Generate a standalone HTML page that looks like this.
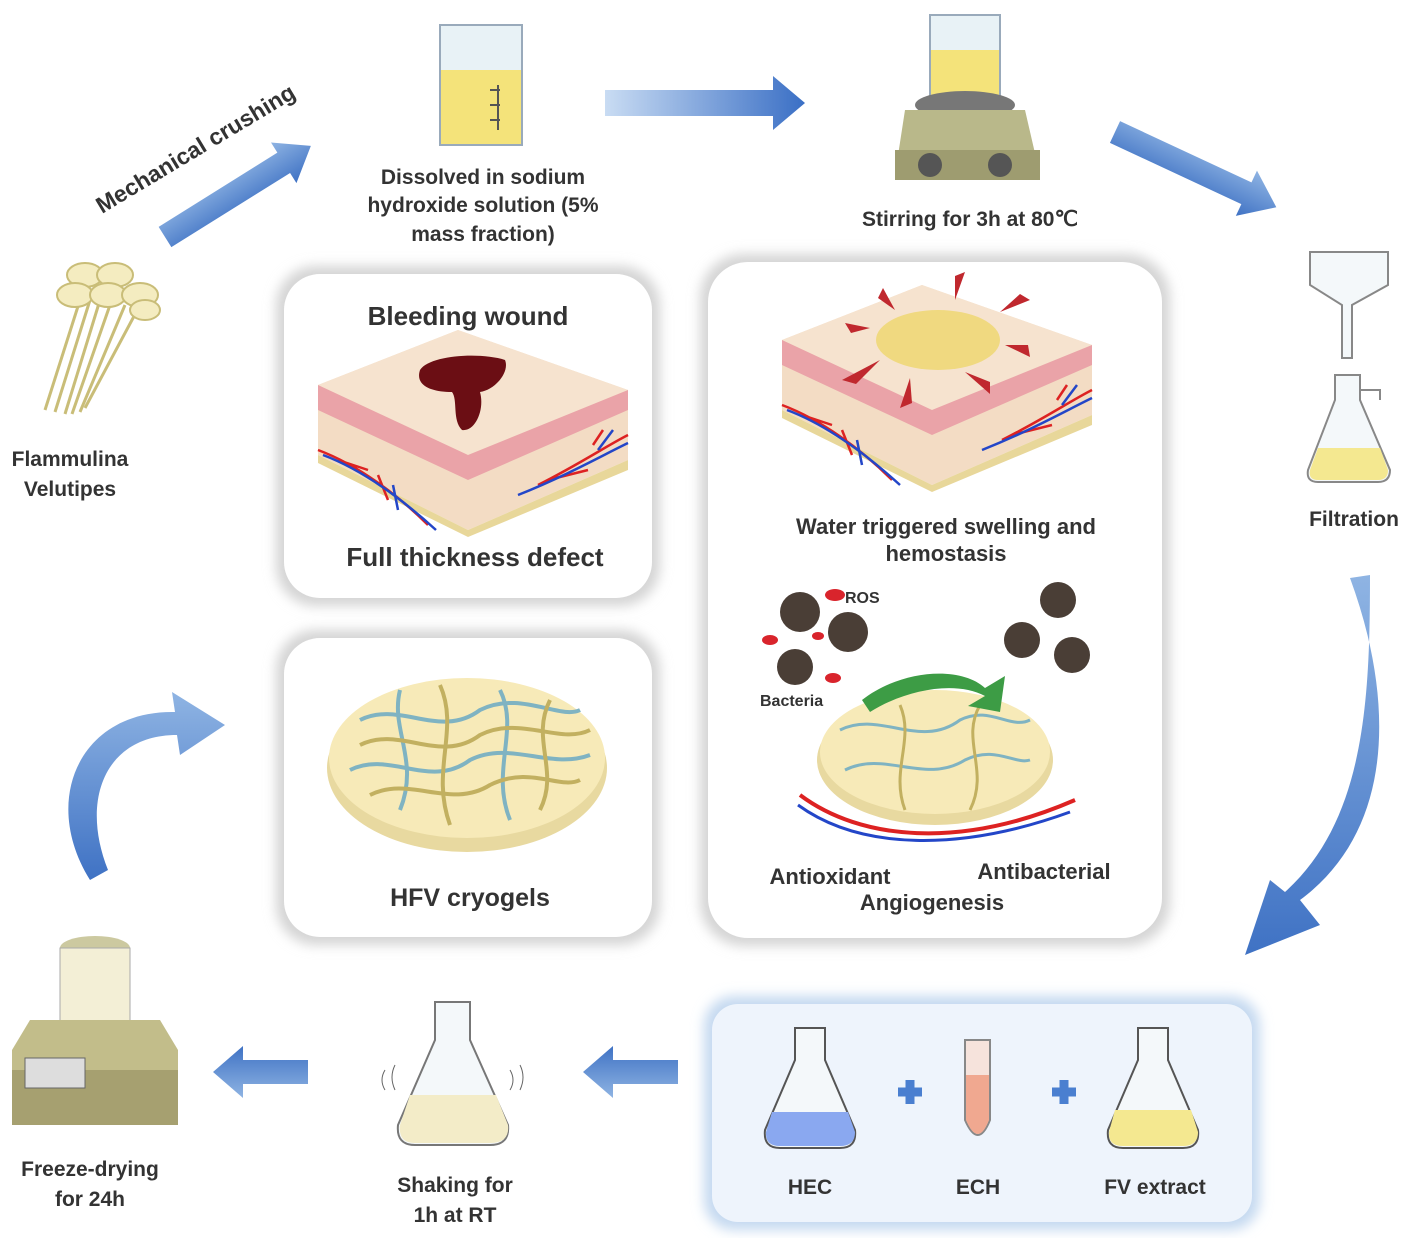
<!DOCTYPE html>
<html><head><meta charset="utf-8"><style>
html,body{margin:0;padding:0;background:#fff}
svg{display:block}
text{font-family:"Liberation Sans",Arial,sans-serif;font-weight:bold;fill:#333}
</style></head><body>
<svg width="1422" height="1238" viewBox="0 0 1422 1238" xmlns="http://www.w3.org/2000/svg">
<defs>
<linearGradient id="ab" x1="0" y1="0" x2="0" y2="1"><stop offset="0" stop-color="#8fb4e3"/><stop offset="1" stop-color="#3f72c4"/></linearGradient>
<linearGradient id="ab2" x1="0" y1="0" x2="1" y2="0"><stop offset="0" stop-color="#c9dcf3"/><stop offset="1" stop-color="#3a6fc5"/></linearGradient>
<filter id="sh" x="-10%" y="-10%" width="120%" height="120%"><feGaussianBlur stdDeviation="6"/></filter>
<g id="skin">
 <path d="M0,60 L140,5 L310,65 L310,135 L150,205 L0,130 Z" fill="#f3dcc4"/>
 <path d="M0,60 L140,5 L310,65 L150,130 Z" fill="#f6e3cf"/>
 <path d="M0,60 L150,130 L310,65 L310,85 L150,155 L0,85 Z" fill="#eaa3a8"/>
 <path d="M0,130 L150,205 L310,135 L310,145 L150,212 L0,138 Z" fill="#e8d79a"/>
 <path d="M0,125 C40,140 80,170 110,200 M20,135 L50,145 M60,150 L70,175 M220,160 C260,140 290,120 310,110 M230,155 L270,145 M275,120 L285,105" stroke="#d22" stroke-width="2.5" fill="none"/>
 <path d="M5,130 C45,145 85,175 118,205 M75,160 L80,185 M200,170 C250,150 285,130 310,118 M280,125 L295,105" stroke="#2346c8" stroke-width="2.5" fill="none"/>
</g>
</defs>

<!-- panels -->
<rect x="276" y="266" width="384" height="340" rx="40" fill="#d4d4d4" filter="url(#sh)"/>
<rect x="284" y="274" width="368" height="324" rx="36" fill="#fff"/>
<rect x="276" y="630" width="384" height="315" rx="40" fill="#d4d4d4" filter="url(#sh)"/>
<rect x="284" y="638" width="368" height="299" rx="36" fill="#fff"/>
<rect x="700" y="254" width="470" height="692" rx="44" fill="#d4d4d4" filter="url(#sh)"/>
<rect x="708" y="262" width="454" height="676" rx="40" fill="#fff"/>
<rect x="704" y="996" width="556" height="234" rx="30" fill="#c5d9f0" filter="url(#sh)"/>
<rect x="712" y="1004" width="540" height="218" rx="26" fill="#eef4fc"/>

<!-- panel 1 -->
<text x="468" y="325" font-size="26" text-anchor="middle">Bleeding wound</text>
<use href="#skin" transform="translate(318,325)"/>
<path d="M420,370 C430,355 480,352 505,360 C510,372 495,390 480,392 C485,410 475,432 462,430 C452,420 458,400 452,392 C430,392 415,385 420,370 Z" fill="#6b0e14"/>
<text x="475" y="566" font-size="26" text-anchor="middle">Full thickness defect</text>

<!-- panel 2 cryogel -->
<ellipse cx="467" cy="768" rx="140" ry="84" fill="#e8d9a0"/>
<ellipse cx="467" cy="758" rx="138" ry="80" fill="#f7eab8"/>
<g stroke="#7fb3c2" stroke-width="4" fill="none">
<path d="M360,720 C400,700 440,740 480,710 C520,690 560,720 580,710"/>
<path d="M350,770 C390,750 430,790 470,760 C510,740 550,770 590,755"/>
<path d="M400,690 C390,730 420,760 400,810"/>
<path d="M500,690 C520,730 490,770 510,820"/>
</g>
<g stroke="#c2b060" stroke-width="4" fill="none">
<path d="M360,745 C400,725 440,765 480,735 C520,715 560,745 590,730"/>
<path d="M370,795 C410,775 450,810 490,785 C530,765 560,790 580,780"/>
<path d="M440,685 C460,730 430,770 450,825"/>
<path d="M550,700 C530,740 560,770 540,810"/>
</g>
<text x="470" y="906" font-size="25" text-anchor="middle">HFV cryogels</text>

<!-- panel 3 -->
<use href="#skin" transform="translate(782,280)"/>
<ellipse cx="938" cy="340" rx="62" ry="30" fill="#f0d980"/>
<g fill="#c0282e">
<path d="M895,310 l-12,-22 l-5,10 z"/><path d="M955,300 l10,-28 l-10,4 z"/><path d="M1000,312 l30,-12 l-10,-6 z"/>
<path d="M1005,345 l25,12 l-2,-12 z"/><path d="M965,372 l25,22 l0,-12 z"/><path d="M910,378 l-10,30 l12,-5 z"/>
<path d="M880,360 l-38,20 l14,4 z"/><path d="M870,328 l-25,-5 l6,10 z"/>
</g>
<text x="946" y="534" font-size="22" text-anchor="middle">Water triggered swelling and</text>
<text x="946" y="561" font-size="22" text-anchor="middle">hemostasis</text>
<g fill="#4a3e36">
<circle cx="800" cy="612" r="20"/><circle cx="848" cy="632" r="20"/><circle cx="795" cy="667" r="18"/>
<circle cx="1058" cy="600" r="18"/><circle cx="1022" cy="640" r="18"/><circle cx="1072" cy="655" r="18"/>
</g>
<g fill="#d9242c"><ellipse cx="835" cy="595" rx="10" ry="6"/><ellipse cx="770" cy="640" rx="8" ry="5"/><ellipse cx="818" cy="636" rx="6" ry="4"/><ellipse cx="833" cy="678" rx="8" ry="5"/></g>
<text x="845" y="603" font-size="16" font-weight="normal">ROS</text>
<text x="760" y="706" font-size="16" font-weight="normal">Bacteria</text>
<ellipse cx="935" cy="760" rx="118" ry="65" fill="#e8d9a0"/>
<ellipse cx="935" cy="752" rx="115" ry="62" fill="#f7eab8"/>
<g stroke="#7fb3c2" stroke-width="3" fill="none"><path d="M840,730 C880,710 920,750 960,720 C990,705 1010,730 1030,720"/><path d="M845,770 C885,750 925,785 965,760 C995,745 1015,765 1030,760"/></g>
<g stroke="#c2b060" stroke-width="3" fill="none"><path d="M900,705 C915,740 890,770 905,810"/><path d="M980,705 C960,740 990,770 970,810"/></g>
<path d="M862,700 C900,670 960,665 985,688 L1005,676 L1000,712 L968,706 L985,696 C955,680 905,690 870,712 Z" fill="#3d9c45"/>
<path d="M800,795 C860,840 960,850 1075,800" stroke="#d22" stroke-width="4" fill="none"/>
<path d="M798,805 C860,850 960,852 1070,812" stroke="#2346c8" stroke-width="3" fill="none"/>
<text x="830" y="884" font-size="22" text-anchor="middle">Antioxidant</text>
<text x="1044" y="879" font-size="22" text-anchor="middle">Antibacterial</text>
<text x="932" y="910" font-size="22" text-anchor="middle">Angiogenesis</text>

<!-- top row -->
<g transform="translate(165,237) rotate(-32)"><path d="M0,-12 L140,-12 L140,-24 L172,0 L140,24 L140,12 L0,12 Z" fill="url(#ab)"/></g>
<text x="0" y="0" font-size="23" transform="translate(102,214) rotate(-31)">Mechanical crushing</text>
<!-- beaker -->
<path d="M440,25 L522,25 L522,145 L440,145 Z" fill="#e8f2f6" stroke="#9ab" stroke-width="2"/>
<rect x="441" y="70" width="80" height="74" fill="#f4e37a"/>
<path d="M490,90 h10 M490,105 h10 M490,120 h10 M498,85 v45" stroke="#555" stroke-width="2"/>
<text x="483" y="184" font-size="21" text-anchor="middle">Dissolved in sodium</text>
<text x="483" y="212" font-size="21" text-anchor="middle">hydroxide solution (5%</text>
<text x="483" y="241" font-size="21" text-anchor="middle">mass fraction)</text>
<g transform="translate(605,103)"><path d="M0,-13 L168,-13 L168,-27 L200,0 L168,27 L168,13 L0,13 Z" fill="url(#ab2)"/></g>
<!-- stirrer -->
<rect x="930" y="15" width="70" height="80" fill="#e8f2f6" stroke="#9ab" stroke-width="2"/>
<rect x="931" y="50" width="68" height="45" fill="#f4e37a"/>
<ellipse cx="965" cy="105" rx="50" ry="14" fill="#777"/>
<path d="M905,110 L1025,110 L1040,175 L895,175 Z" fill="#b9b88a"/>
<path d="M895,150 L1040,150 L1040,180 L895,180 Z" fill="#9e9c70"/>
<circle cx="930" cy="165" r="12" fill="#555"/><circle cx="1000" cy="165" r="12" fill="#555"/>
<text x="970" y="226" font-size="21" text-anchor="middle">Stirring for 3h at 80℃</text>
<g transform="translate(1115,132) rotate(25)"><path d="M0,-12 L145,-12 L145,-25 L178,0 L145,25 L145,12 L0,12 Z" fill="url(#ab)"/></g>
<!-- filtration -->
<path d="M1310,252 L1388,252 L1388,285 L1352,305 L1352,358 L1342,358 L1342,305 L1310,285 Z" fill="#f4f8fa" stroke="#888" stroke-width="2"/>
<path d="M1335,375 L1360,375 L1360,400 L1390,470 Q1390,482 1378,482 L1318,482 Q1306,482 1308,470 L1335,400 Z" fill="#f4f8fa" stroke="#888" stroke-width="2"/>
<path d="M1318,448 L1380,448 L1388,470 Q1388,480 1378,480 L1318,480 Q1308,480 1310,470 Z" fill="#f4e890"/>
<path d="M1360,390 h20 v10" stroke="#888" stroke-width="2" fill="none"/>
<text x="1354" y="526" font-size="21" text-anchor="middle">Filtration</text>
<!-- mushroom -->
<g stroke="#c9bd78" stroke-width="3"><path d="M80,300 L45,410"/><path d="M90,300 L55,412"/><path d="M100,300 L65,414"/><path d="M110,305 L72,414"/><path d="M125,305 L80,412"/><path d="M140,305 L85,408"/></g>
<g fill="#f4ecc0" stroke="#c9bd78" stroke-width="2"><ellipse cx="85" cy="275" rx="18" ry="12"/><ellipse cx="115" cy="275" rx="18" ry="12"/><ellipse cx="75" cy="295" rx="18" ry="12"/><ellipse cx="108" cy="295" rx="18" ry="12"/><ellipse cx="140" cy="295" rx="18" ry="12"/><ellipse cx="145" cy="310" rx="15" ry="10"/></g>
<text x="70" y="466" font-size="21" text-anchor="middle">Flammulina</text>
<text x="70" y="496" font-size="21" text-anchor="middle">Velutipes</text>

<!-- right curved arrow -->
<path d="M1350,578 C1395,700 1395,830 1300,900 L1320,925 L1245,955 L1270,880 L1285,892 C1365,820 1370,700 1370,575 Z" fill="url(#ab)"/>
<!-- left curved arrow -->
<path d="M90,880 C40,800 80,710 175,712 L172,692 L225,725 L180,755 L177,735 C105,735 80,800 108,870 Z" fill="url(#ab)"/>

<!-- bottom row -->
<g transform="translate(678,1072) rotate(180)"><path d="M0,-12 L65,-12 L65,-26 L95,0 L65,26 L65,12 L0,12 Z" fill="url(#ab)"/></g>
<g transform="translate(308,1072) rotate(180)"><path d="M0,-12 L65,-12 L65,-26 L95,0 L65,26 L65,12 L0,12 Z" fill="url(#ab)"/></g>
<!-- bottom box flasks -->
<path d="M795,1028 L825,1028 L825,1060 L855,1130 Q857,1148 840,1148 L780,1148 Q763,1148 765,1130 L795,1060 Z" fill="#f4f8fa" stroke="#555" stroke-width="2"/>
<path d="M772,1112 L848,1112 L855,1132 Q855,1146 840,1146 L780,1146 Q765,1146 766,1132 Z" fill="#8aa8f0"/>
<text x="810" y="1194" font-size="21" text-anchor="middle">HEC</text>
<path d="M898,1092 h24 M910,1080 v24" stroke="#4a7fd0" stroke-width="9"/>
<path d="M965,1040 L990,1040 L990,1120 Q978,1150 965,1120 Z" fill="#f6e3dc" stroke="#888" stroke-width="2"/>
<path d="M966,1075 L989,1075 L989,1120 Q978,1148 966,1120 Z" fill="#f0a890"/>
<text x="978" y="1194" font-size="21" text-anchor="middle">ECH</text>
<path d="M1052,1092 h24 M1064,1080 v24" stroke="#4a7fd0" stroke-width="9"/>
<path d="M1138,1028 L1168,1028 L1168,1060 L1198,1130 Q1200,1148 1183,1148 L1123,1148 Q1106,1148 1108,1130 L1138,1060 Z" fill="#f4f8fa" stroke="#555" stroke-width="2"/>
<path d="M1115,1110 L1191,1110 L1198,1132 Q1198,1146 1183,1146 L1123,1146 Q1108,1146 1109,1132 Z" fill="#f4e890"/>
<text x="1155" y="1194" font-size="21" text-anchor="middle">FV extract</text>
<!-- shaking flask -->
<path d="M435,1002 L470,1002 L470,1040 L508,1125 Q510,1145 490,1145 L415,1145 Q396,1145 398,1125 L435,1040 Z" fill="#f4f8fa" stroke="#777" stroke-width="2"/>
<path d="M410,1095 L496,1095 L508,1125 Q510,1143 490,1143 L415,1143 Q398,1143 400,1125 Z" fill="#f3ecc8"/>
<path d="M385,1070 q-6,10 0,20 M395,1065 q-6,12 0,25 M510,1070 q6,10 0,20 M520,1065 q6,12 0,25" stroke="#666" fill="none"/>
<text x="455" y="1192" font-size="21" text-anchor="middle">Shaking for</text>
<text x="455" y="1222" font-size="21" text-anchor="middle">1h at RT</text>
<!-- freeze dryer -->
<ellipse cx="95" cy="948" rx="35" ry="12" fill="#ccc9a0"/>
<rect x="60" y="948" width="70" height="80" fill="#f3efd6" stroke="#aaa"/>
<path d="M30,1020 L160,1020 L178,1050 L178,1110 L12,1110 L12,1050 Z" fill="#c2bd8a"/>
<path d="M12,1070 L178,1070 L178,1125 L12,1125 Z" fill="#a6a070"/>
<rect x="25" y="1058" width="60" height="30" fill="#ddd" stroke="#666"/>
<text x="90" y="1176" font-size="21" text-anchor="middle">Freeze-drying</text>
<text x="90" y="1206" font-size="21" text-anchor="middle">for 24h</text>
</svg>
</body></html>
